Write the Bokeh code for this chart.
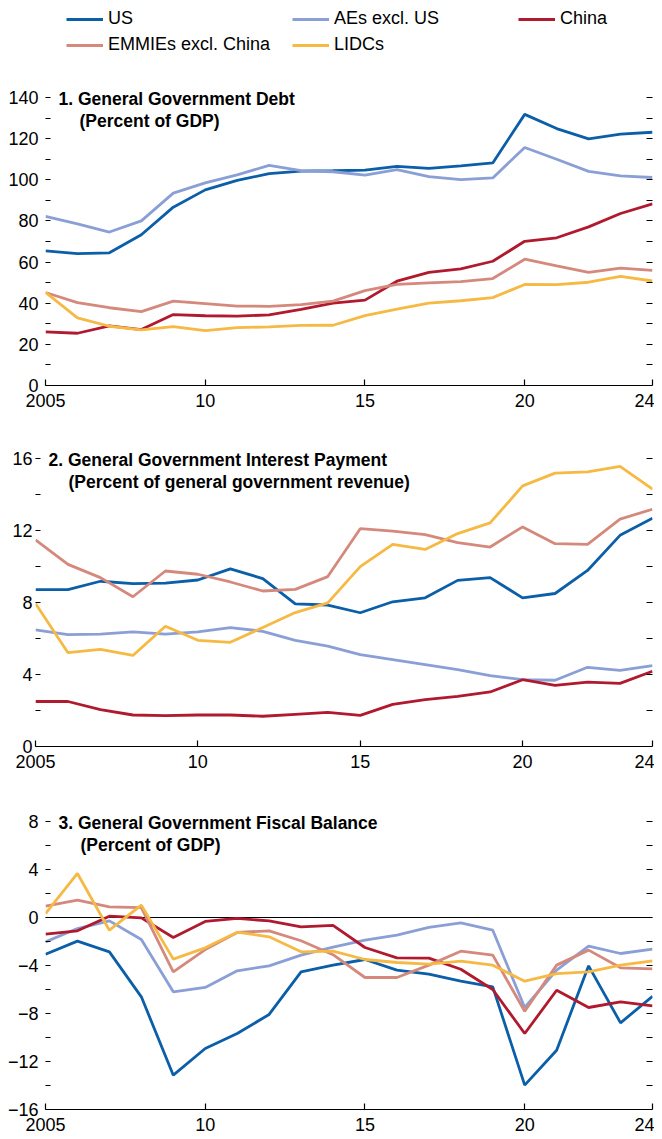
from bokeh.plotting import figure
from bokeh.models import Range1d, FixedTicker, LinearAxis, Legend, LegendItem, Label, Span
from bokeh.layouts import column
from bokeh.embed import file_html
from bokeh.resources import INLINE

FONT = "Liberation Sans"

years = list(range(2005, 2025))
series_names = ["US", "AEs excl. US", "China", "EMMIEs excl. China", "LIDCs"]
series_colors = ["#0b5ea8", "#8a9fd5", "#b0192e", "#d4897c", "#f5b944"]

x_ticks = [2005, 2010, 2015, 2020, 2024]
x_tick_labels = {2005: "2005", 2010: "10", 2015: "15", 2020: "20", 2024: "24"}

# Panel 1: General government debt (percent of GDP)
debt_us = [65.4, 64.1, 64.5, 73.3, 86.7, 95.1, 99.7, 103.0, 104.2, 104.4,
           104.7, 106.5, 105.5, 106.8, 108.2, 131.8, 124.9, 119.9, 122.2, 123.1]
debt_aes = [82.2, 78.6, 74.6, 80.0, 93.5, 98.5, 102.4, 107.0, 104.4, 103.9,
            102.3, 104.9, 101.5, 100.1, 100.9, 115.7, 110.0, 104.1, 101.9, 101.1]
debt_china = [26.1, 25.4, 29.0, 27.2, 34.5, 33.9, 33.7, 34.3, 37.0, 40.0,
              41.5, 50.7, 55.0, 56.7, 60.4, 70.1, 71.8, 77.1, 83.6, 88.3]
debt_emmies = [45.2, 40.3, 37.8, 35.9, 41.0, 39.8, 38.6, 38.5, 39.3, 41.0,
               46.1, 49.2, 49.9, 50.5, 52.0, 61.4, 58.1, 55.0, 57.1, 56.0]
debt_lidcs = [45.3, 32.9, 28.8, 27.0, 28.6, 26.7, 28.1, 28.5, 29.2, 29.3,
              34.0, 37.1, 40.0, 41.2, 42.7, 49.1, 49.0, 50.2, 53.0, 50.8]

# Panel 2: Interest payment (percent of general government revenue)
int_us = [8.72, 8.72, 9.18, 9.05, 9.08, 9.25, 9.87, 9.33, 7.92, 7.86,
          7.43, 8.04, 8.26, 9.23, 9.38, 8.26, 8.5, 9.78, 11.73, 12.68]
int_aes = [6.48, 6.22, 6.24, 6.37, 6.24, 6.37, 6.61, 6.4, 5.9, 5.58,
           5.1, 4.83, 4.55, 4.27, 3.94, 3.71, 3.68, 4.4, 4.23, 4.49]
int_china = [2.5, 2.5, 2.05, 1.75, 1.71, 1.75, 1.75, 1.68, 1.79, 1.9,
             1.73, 2.34, 2.6, 2.78, 3.03, 3.71, 3.4, 3.58, 3.51, 4.18]
int_emmies = [11.48, 10.12, 9.38, 8.32, 9.75, 9.57, 9.14, 8.64, 8.73, 9.44,
              12.1, 11.96, 11.77, 11.33, 11.08, 12.2, 11.27, 11.23, 12.63, 13.18]
int_lidcs = [7.94, 5.21, 5.4, 5.06, 6.68, 5.9, 5.79, 6.61, 7.44, 7.98,
             9.99, 11.23, 10.95, 11.83, 12.42, 14.48, 15.19, 15.26, 15.56, 14.3]

# Panel 3: Fiscal balance (percent of GDP)
bal_us = [-3.06, -1.97, -2.86, -6.61, -13.14, -10.92, -9.67, -8.08, -4.53, -3.97,
          -3.5, -4.39, -4.72, -5.31, -5.78, -13.97, -11.06, -4.03, -8.78, -6.56]
bal_aes = [-2.03, -0.92, -0.28, -1.83, -6.19, -5.83, -4.44, -4.03, -3.14, -2.47,
           -1.89, -1.47, -0.83, -0.44, -1.06, -7.5, -4.39, -2.39, -3.0, -2.64]
bal_china = [-1.39, -1.11, 0.11, -0.03, -1.67, -0.33, -0.08, -0.28, -0.78, -0.66,
             -2.5, -3.36, -3.39, -4.31, -6.0, -9.67, -6.06, -7.5, -7.03, -7.36]
bal_emmies = [0.94, 1.44, 0.89, 0.83, -4.53, -2.67, -1.25, -1.11, -1.94, -3.1,
              -5.0, -5.0, -3.97, -2.81, -3.14, -7.81, -3.97, -2.72, -4.19, -4.28]
bal_lidcs = [0.33, 3.67, -1.06, 1.03, -3.47, -2.53, -1.22, -1.61, -2.86, -2.8,
             -3.5, -3.75, -3.89, -3.64, -3.97, -5.31, -4.67, -4.53, -3.97, -3.61]

panel_titles = [
    ("1. General Government Debt", "(Percent of GDP)"),
    ("2. General Government Interest Payment", "(Percent of general government revenue)"),
    ("3. General Government Fiscal Balance", "(Percent of GDP)"),
]


def fmt(v):
    return ("\u2212" + str(abs(v))) if v < 0 else str(v)


def make_panel(series, y0, y1, major_step, minor_step, title,
               frame_px, px_per_unit, border_left, border_top, border_bottom,
               label_standoff, title_dx1, title_dx2):
    # the frame is taller than the labelled range so the title fits inside it
    y_top = y0 + frame_px / px_per_unit
    p = figure(width=654, height=border_top + frame_px + border_bottom,
               x_range=Range1d(2005, 2024), y_range=Range1d(y0, y_top),
               output_backend="svg", toolbar_location=None,
               min_border_left=border_left, min_border_right=2,
               min_border_top=border_top, min_border_bottom=border_bottom,
               outline_line_color=None, background_fill_color="white",
               border_fill_color="white")
    p.frame_align = False
    p.grid.visible = False

    xa = p.xaxis[0]
    xa.ticker = FixedTicker(ticks=x_ticks)
    xa.major_label_overrides = x_tick_labels
    xa.major_tick_in = 6
    xa.major_tick_out = 0
    xa.minor_tick_line_color = None
    xa.axis_line_color = "black"
    xa.axis_line_width = 1.2
    xa.major_tick_line_width = 1.2
    xa.major_label_text_font = FONT
    xa.major_label_text_font_size = "18px"
    xa.major_label_text_color = "black"
    xa.major_label_standoff = 8

    majors = list(range(y0, y1 + 1, major_step))
    minors = [v for v in range(y0, y1 + 1, minor_step) if v not in majors]
    ya = p.yaxis[0]
    ya.ticker = FixedTicker(ticks=majors, minor_ticks=minors)
    ya.major_label_overrides = {v: fmt(v) for v in majors}
    ya.axis_line_color = None
    ya.major_tick_in = 5
    ya.major_tick_out = 0
    ya.minor_tick_in = 5
    ya.minor_tick_out = 0
    ya.major_tick_line_width = 1.2
    ya.minor_tick_line_width = 1.2
    ya.major_label_text_font = FONT
    ya.major_label_text_font_size = "18px"
    ya.major_label_text_color = "black"
    ya.major_label_standoff = label_standoff

    right_ticks = [v for v in range(y0, y1 + 1, minor_step) if v != y0]
    ra = LinearAxis(ticker=FixedTicker(ticks=right_ticks), axis_line_color=None,
                    major_tick_in=6, major_tick_out=0, minor_tick_line_color=None,
                    major_tick_line_width=1.2,
                    major_label_overrides={v: "" for v in right_ticks},
                    major_label_standoff=0)
    p.add_layout(ra, "right")

    if y0 < 0 < y1:
        zero = Span(location=0, dimension="width", line_color="black",
                    line_width=1.2, level="underlay")
        p.add_layout(zero)

    renderers = []
    for vals, c in zip(series, series_colors):
        r = p.line(years, vals, line_color=c, line_width=2.8)
        renderers.append(r)

    t1, t2 = title
    p.add_layout(Label(x=2005, y=y1, x_offset=title_dx1, y_offset=-1, text=t1,
                       text_font=FONT, text_font_style="bold",
                       text_font_size="17.5px", text_baseline="middle",
                       text_color="black"))
    p.add_layout(Label(x=2005, y=y1, x_offset=title_dx2, y_offset=-23, text=t2,
                       text_font=FONT, text_font_style="bold",
                       text_font_size="17.5px", text_baseline="middle",
                       text_color="black"))
    return p, renderers


p1, r1 = make_panel([debt_us, debt_aes, debt_china, debt_emmies, debt_lidcs],
                    0, 140, 20, 10, panel_titles[0],
                    385, 288 / 140, 45, 0, 40, 7, 13, 34)
p2, _ = make_panel([int_us, int_aes, int_china, int_emmies, int_lidcs],
                   0, 16, 4, 2, panel_titles[1],
                   316, 288 / 16, 35, 5, 40, 3, 13, 33)
p3, _ = make_panel([bal_us, bal_aes, bal_china, bal_emmies, bal_lidcs],
                   -16, 8, 4, 2, panel_titles[2],
                   319, 288 / 24, 45, 4, 30, 7, 13, 35)

legend = Legend(items=[LegendItem(label=n, renderers=[r]) for n, r in zip(series_names, r1)],
                location=(21, 330), orientation="horizontal", ncols=3,
                glyph_width=37, glyph_height=20, label_standoff=5,
                label_width=179, label_height=20, spacing=5,
                padding=0, margin=0, border_line_color=None,
                background_fill_alpha=0,
                label_text_font=FONT, label_text_font_size="18px",
                label_text_color="black")
p1.add_layout(legend, "center")

layout = column(p1, p2, p3, spacing=0)
open("out.html", "w").write(file_html(layout, INLINE))
